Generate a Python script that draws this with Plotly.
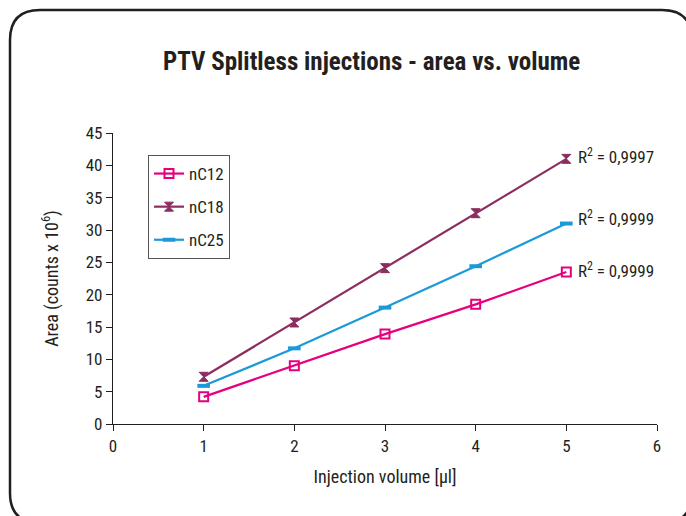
import plotly.graph_objects as go

volume = [1, 2, 3, 4, 5]
nC12 = [4.2, 9.0, 13.9, 18.5, 23.5]
nC18 = [7.3, 15.7, 24.1, 32.6, 41.0]
nC25 = [5.9, 11.7, 18.0, 24.4, 31.0]
r2_labels = ["R<sup>2</sup> = 0,9999", "R<sup>2</sup> = 0,9997", "R<sup>2</sup> = 0,9999"]
series_names = ["nC12", "nC18", "nC25"]
x_ticks = [0, 1, 2, 3, 4, 5, 6]
y_ticks = [0, 5, 10, 15, 20, 25, 30, 35, 40, 45]

W, H = 686, 516
L, R, T, B = 113, 657, 133, 424
FONT = "Liberation Sans Narrow, Roboto Condensed, Arial Narrow, Liberation Sans, sans-serif"
DARK = "#231f20"
FS = 17
colors = ["#e5007e", "#8c2d5f", "#1b9ad7"]

def px(x):
    return (x - L) / (R - L)

def py(y):
    return (B - y) / (B - T)

fig = go.Figure()
specs = [
    (nC12, dict(symbol="square-open", size=9, color=colors[0], line=dict(width=2, color=colors[0]))),
    (nC18, dict(symbol="hourglass", size=9, color=colors[1], line=dict(width=1, color=colors[1]))),
    (nC25, dict(symbol="line-ew-open", size=9, color=colors[2], line=dict(width=4, color=colors[2]))),
]
for i, (vals, mk) in enumerate(specs):
    fig.add_trace(go.Scatter(
        x=volume, y=vals, name=series_names[i], mode="lines+markers",
        line=dict(color=colors[i], width=2.2), marker=mk,
        legendgroup=series_names[i],
    ))

for i, vals in enumerate([nC12, nC18, nC25]):
    fig.add_annotation(x=volume[-1], y=vals[-1], xref="x", yref="y",
                       text=r2_labels[i], showarrow=False, xanchor="left",
                       xshift=10, yshift=[2, 3, 6][i],
                       font=dict(family=FONT, size=FS, color=DARK))

# title
fig.add_annotation(x=px(371), y=py(61), xref="paper", yref="paper",
                   text="<b>PTV Splitless injections - area vs. volume</b>",
                   showarrow=False, xanchor="center", yanchor="middle",
                   font=dict(family=FONT, size=25, color=DARK))

# rounded frame
x0, y0, x1, y1, r = 10, 10, 692, 523, 30
path = (f"M {px(x0)},{py(y0 + r)} Q {px(x0)},{py(y0)} {px(x0 + r)},{py(y0)} "
        f"L {px(x1 - r)},{py(y0)} Q {px(x1)},{py(y0)} {px(x1)},{py(y0 + r)} "
        f"L {px(x1)},{py(y1 - r)} Q {px(x1)},{py(y1)} {px(x1 - r)},{py(y1)} "
        f"L {px(x0 + r)},{py(y1)} Q {px(x0)},{py(y1)} {px(x0)},{py(y1 - r)} Z")
fig.add_shape(type="path", path=path, xref="paper", yref="paper",
              line=dict(color=DARK, width=2.5), layer="below")

axis_common = dict(showgrid=False, zeroline=False, showline=True, linecolor=DARK,
                   linewidth=1.3, ticks="outside", ticklen=6, tickcolor=DARK,
                   tickwidth=1.3, tickfont=dict(family=FONT, size=FS, color=DARK))
fig.update_xaxes(range=[0, 6], tickvals=x_ticks, ticktext=[str(v) for v in x_ticks],
                 title=dict(text="Injection volume [µl]", standoff=15,
                            font=dict(family=FONT, size=18, color=DARK)),
                 **axis_common)
fig.update_yaxes(range=[0, 45], tickvals=y_ticks, ticktext=[str(v) for v in y_ticks],
                 title=dict(text="Area (counts x 10<sup>6</sup>)", standoff=22,
                            font=dict(family=FONT, size=18, color=DARK)),
                 **axis_common)

fig.update_layout(
    width=W, height=H, autosize=False,
    margin=dict(l=L, r=W - R, t=T, b=H - B),
    paper_bgcolor="white", plot_bgcolor="white",
    showlegend=True,
    legend=dict(x=px(148), y=py(155), xanchor="left", yanchor="top",
                bordercolor="#555555", borderwidth=1, bgcolor="white",
                font=dict(family=FONT, size=FS, color=DARK),
                tracegroupgap=8, itemwidth=30),
)

fig.write_html("out.html", config={"displayModeBar": False},
               post_script="document.body.style.margin='0px';")
